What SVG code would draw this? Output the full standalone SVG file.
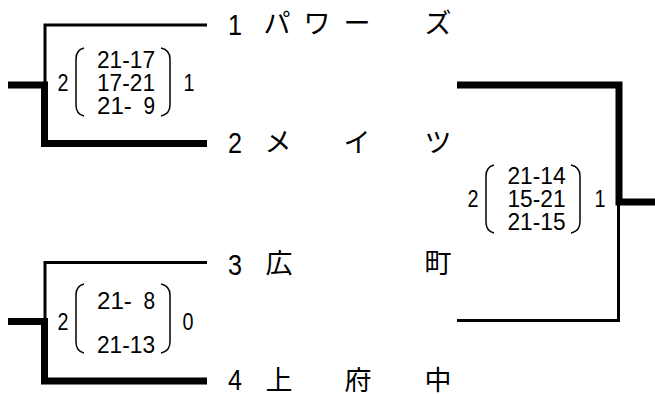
<svg xmlns="http://www.w3.org/2000/svg" width="655" height="394" viewBox="0 0 655 394">
<style>
.thin{stroke:#000;stroke-width:3;fill:none}
.thick{stroke:#000;stroke-width:7;fill:none;stroke-linejoin:miter}
.paren{stroke:#000;stroke-width:1.5;fill:none}
.num{font-family:"Liberation Sans",Arial,sans-serif;font-size:30px;fill:#000}
.jp{font-family:"Noto Sans CJK JP",sans-serif;font-size:27px;fill:#000}
.sc{font-family:"Liberation Sans",Arial,sans-serif;font-size:23px;fill:#000}
</style>
<rect width="655" height="394" fill="#fff"/>
<g id="connectors">
  <path class="thin" d="M207 25 H45 V85"/>
  <path class="thick" d="M8 85 H44.5 V143.5 H207"/>
  <path class="thin" d="M207 262.5 H45 V321.5"/>
  <path class="thick" d="M8 321.5 H44.5 V381 H207"/>
  <path class="thick" d="M457 85 H619 V202 H655"/>
  <path class="thin" d="M457 320.5 H618.5 V202"/>
</g>
<g id="team1">
  <text class="num" x="235" y="34.5" text-anchor="middle" textLength="14" lengthAdjust="spacingAndGlyphs">1</text>
  <text class="jp" x="277 317 357 438" y="33" text-anchor="middle">パワーズ</text>
</g>
<g id="team2">
  <text class="num" x="235" y="153.3" text-anchor="middle" textLength="14" lengthAdjust="spacingAndGlyphs">2</text>
  <text class="jp" x="278 357 438" y="152" text-anchor="middle">メイツ</text>
</g>
<g id="team3">
  <text class="num" x="235" y="274.5" text-anchor="middle" textLength="14" lengthAdjust="spacingAndGlyphs">3</text>
  <text class="jp" x="279 438" y="273" text-anchor="middle">広町</text>
</g>
<g id="team4">
  <text class="num" x="235" y="390" text-anchor="middle" textLength="14" lengthAdjust="spacingAndGlyphs">4</text>
  <text class="jp" x="279 358 438" y="389.5" text-anchor="middle">上府中</text>
</g>
<g id="score-sf1">
  <text class="sc" x="63" y="90.8" text-anchor="middle" textLength="11" lengthAdjust="spacingAndGlyphs">2</text>
  <path class="paren" d="M84 48 Q76 50 76 59 V105 Q76 114 84 116"/>
  <text class="sc"><tspan x="97" y="67.8" textLength="58" lengthAdjust="spacingAndGlyphs">21-17</tspan><tspan x="97" y="90.8" textLength="58" lengthAdjust="spacingAndGlyphs">17-21</tspan><tspan x="97" y="113.8" textLength="34.8" lengthAdjust="spacingAndGlyphs">21-</tspan><tspan x="143.4" y="113.8" textLength="11.6" lengthAdjust="spacingAndGlyphs">9</tspan></text>
  <path class="paren" d="M161 48 Q170 50 170 59 V105 Q170 114 161 116"/>
  <text class="sc" x="189" y="90.8" text-anchor="middle" textLength="11" lengthAdjust="spacingAndGlyphs">1</text>
</g>
<g id="score-sf2">
  <text class="sc" x="63" y="330.3" text-anchor="middle" textLength="11" lengthAdjust="spacingAndGlyphs">2</text>
  <path class="paren" d="M84 284 Q76 286 76 295 V342 Q76 351 84 353"/>
  <text class="sc"><tspan x="97" y="309.3" textLength="34.8" lengthAdjust="spacingAndGlyphs">21-</tspan><tspan x="143.4" y="309.3" textLength="11.6" lengthAdjust="spacingAndGlyphs">8</tspan><tspan x="97" y="353.3" textLength="58" lengthAdjust="spacingAndGlyphs">21-13</tspan></text>
  <path class="paren" d="M161 284 Q170 286 170 295 V342 Q170 351 161 353"/>
  <text class="sc" x="188" y="330.3" text-anchor="middle" textLength="11" lengthAdjust="spacingAndGlyphs">0</text>
</g>
<g id="score-final">
  <text class="sc" x="473" y="207.3" text-anchor="middle" textLength="11" lengthAdjust="spacingAndGlyphs">2</text>
  <path class="paren" d="M494 165 Q486 167 486 176 V222 Q486 231 494 233"/>
  <text class="sc"><tspan x="507.5" y="184.3" textLength="58" lengthAdjust="spacingAndGlyphs">21-14</tspan><tspan x="507.5" y="207.3" textLength="58" lengthAdjust="spacingAndGlyphs">15-21</tspan><tspan x="507.5" y="230.3" textLength="58" lengthAdjust="spacingAndGlyphs">21-15</tspan></text>
  <path class="paren" d="M571 165 Q580 167 580 176 V222 Q580 231 571 233"/>
  <text class="sc" x="600" y="207.3" text-anchor="middle" textLength="11" lengthAdjust="spacingAndGlyphs">1</text>
</g>
</svg>
